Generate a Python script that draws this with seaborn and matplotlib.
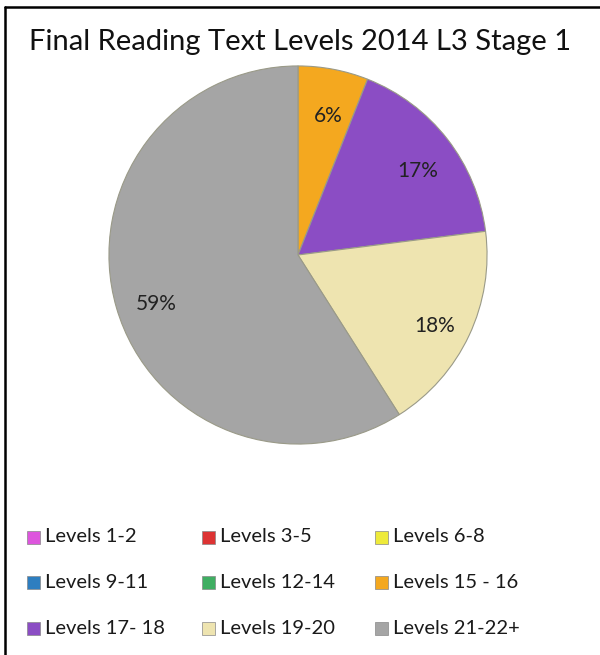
import matplotlib
matplotlib.use("Agg")
import matplotlib.pyplot as plt
import seaborn as sns
from matplotlib.patches import Rectangle
from matplotlib.lines import Line2D

sns.set_theme(style="white")
plt.rcParams['font.family'] = ['Lato', 'DejaVu Sans']

title = "Final Reading Text Levels 2014 L3 Stage 1"
categories = ["Levels 1-2", "Levels 3-5", "Levels 6-8", "Levels 9-11", "Levels 12-14",
              "Levels 15 - 16", "Levels 17- 18", "Levels 19-20", "Levels 21-22+"]
values = [0, 0, 0, 0, 0, 6, 17, 18, 59]
colors = ["#DD55DD", "#DD3333", "#EEEA3A", "#2E7EC0", "#3FAE62",
          "#F4A81F", "#8B4DC4", "#EEE4B0", "#A5A5A5"]

fig = plt.figure(figsize=(6.0, 6.55), dpi=100)
W, H = 600, 655
cx, cy, r = 298, 255, 190
ax = fig.add_axes([(cx - r) / W, (H - cy - r) / H, 2 * r / W, 2 * r / H])

nz = [(v, c) for v, c in zip(values, colors) if v > 0]
wedges, texts, autotexts = ax.pie(
    [v for v, _ in nz], colors=[c for _, c in nz], startangle=90, counterclock=False,
    autopct=lambda p: f"{round(p)}%", pctdistance=0.79,
    wedgeprops=dict(edgecolor="#9a9a88", linewidth=0.8),
    textprops=dict(fontsize=15, color="#222222"))
# small downward nudge of percentage labels (in data units)
for t in autotexts:
    x, y = t.get_position()
    t.set_position((x + 0.01, y - 0.04))
ax.set_xlim(-1.005, 1.005)
ax.set_ylim(-1.005, 1.005)
ax.set_aspect("equal")
ax.axis("off")

fig.text(300 / W, 1 - 42 / H, title, ha="center", va="center", fontsize=21, color="#111111")

# legend, 3 columns, row-major
col_x = [27, 202, 375]
row_y = [537, 582, 628]
sq = 13
for i, (lab, c) in enumerate(zip(categories, colors)):
    col, row = i % 3, i // 3
    x, y = col_x[col], row_y[row]
    fig.add_artist(Rectangle((x / W, 1 - (y + sq / 2) / H), sq / W, sq / H,
                             transform=fig.transFigure, facecolor=c,
                             edgecolor="#888888", linewidth=0.5))
    fig.text((x + sq + 5) / W, 1 - y / H, lab, ha="left", va="center",
             fontsize=14.5, color="#1a1a1a")

fig.add_artist(Line2D([5 / W, 1], [1 - 7 / H, 1 - 7 / H], color="black", linewidth=1.8))
fig.add_artist(Line2D([5 / W, 5 / W], [0, 1 - 7 / H], color="black", linewidth=1.8))

fig.savefig("out.png", dpi=100, facecolor="white")
